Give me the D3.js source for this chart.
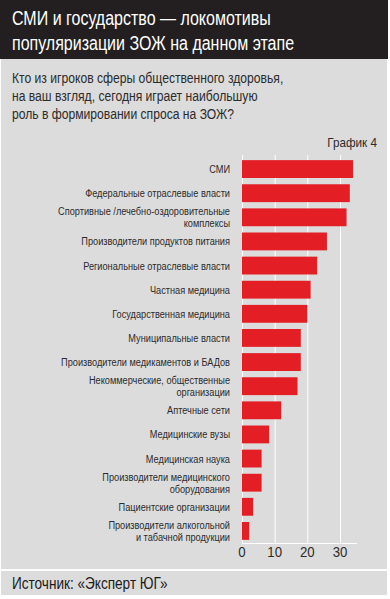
<!DOCTYPE html>
<html>
<head>
<meta charset="utf-8">
<script src="https://cdn.jsdelivr.net/npm/d3@7/dist/d3.min.js"></script>
<style>
  body { margin: 0; background: #fff; }
  svg { display: block; }
  text { font-family: "Liberation Sans Narrow", "Liberation Sans", Arial, sans-serif; }
</style>
</head>
<body>
<div id="chart"></div>
<script>
var categories = [
  ['СМИ'],
  ['Федеральные отраслевые власти'],
  ['Спортивные /лечебно-оздоровительные', 'комплексы'],
  ['Производители продуктов питания'],
  ['Региональные отраслевые власти'],
  ['Частная медицина'],
  ['Государственная медицина'],
  ['Муниципальные власти'],
  ['Производители медикаментов и БАДов'],
  ['Некоммерческие, общественные', 'организации'],
  ['Аптечные сети'],
  ['Медицинские вузы'],
  ['Медицинская наука'],
  ['Производители медицинского', 'оборудования'],
  ['Пациентские организации'],
  ['Производители алкогольной', 'и табачной продукции']
];
var values = [34, 33, 32, 26, 23, 21, 20, 18, 18, 17, 12, 8.3, 6, 6, 3.4, 2.2];
var ticks = [0, 10, 20, 30];

var titleLines = ['СМИ и государство — локомотивы', 'популяризации ЗОЖ на данном этапе'];
var questionLines = ['Кто из игроков сферы общественного здоровья,',
                     'на ваш взгляд, сегодня играет наибольшую',
                     'роль в формировании спроса на ЗОЖ?'];
var chartNo = 'График 4',
    source  = 'Источник: «Эксперт ЮГ»';

var width = 390, height = 599;

// squeeze text horizontally around its anchor x (the original uses a condensed face)
var narrow = function(sel, x0, sx) {
  sel.attr('transform', 'translate(' + x0 + ',0) scale(' + sx + ',1) translate(' + (-x0) + ',0)');
};

var svg = d3.select('#chart')
  .append('svg')
  .attr('width', width)
  .attr('height', height);

// panels
svg.append('rect').attr('x', 0).attr('y', 0).attr('width', 388).attr('height', 59).attr('fill', '#231f20');
svg.append('rect').attr('x', 1).attr('y', 59).attr('width', 386).attr('height', 510).attr('fill', '#dcdcdc');
svg.append('rect').attr('x', 1).attr('y', 571).attr('width', 386).attr('height', 24).attr('fill', '#dcdcdc');

var title = svg.append('text')
  .attr('fill', '#fff')
  .style('font-size', '20px');
title.selectAll('tspan')
  .data(titleLines)
  .enter().append('tspan')
  .attr('x', 12)
  .attr('y', function(d, i) { return 25 + i * 25; })
  .text(function(d) { return d; });
narrow(title, 12, 0.8);

var question = svg.append('text')
  .attr('fill', '#2b2b2b')
  .style('font-size', '15px');
question.selectAll('tspan')
  .data(questionLines)
  .enter().append('tspan')
  .attr('x', 12)
  .attr('y', function(d, i) { return 83 + i * 18; })
  .text(function(d) { return d; });
narrow(question, 12, 0.81);

var no = svg.append('text')
  .attr('x', 377)
  .attr('y', 147)
  .attr('text-anchor', 'end')
  .attr('fill', '#2b2b2b')
  .style('font-size', '13px')
  .text(chartNo);
narrow(no, 377, 0.9);

var x = d3.scaleLinear().domain([0, 30]).range([242, 340]);
var y = d3.scaleBand()
  .domain(d3.range(categories.length))
  .range([157, 543])
  .paddingInner(0.26)
  .paddingOuter(0.13);

// grid
svg.append('g')
  .selectAll('line')
  .data(ticks)
  .enter().append('line')
  .attr('x1', function(d) { return x(d) + 0.5; })
  .attr('x2', function(d) { return x(d) + 0.5; })
  .attr('y1', 155)
  .attr('y2', 543)
  .attr('stroke', '#fff')
  .attr('stroke-width', 1);

svg.append('line')
  .attr('x1', 242).attr('x2', 357)
  .attr('y1', 543.5).attr('y2', 543.5)
  .attr('stroke', '#fff');

svg.append('g')
  .selectAll('rect')
  .data(values)
  .enter().append('rect')
  .attr('x', x(0))
  .attr('y', function(d, i) { return y(i); })
  .attr('width', function(d) { return x(d) - x(0); })
  .attr('height', y.bandwidth())
  .attr('fill', '#e31e25');

var labels = svg.append('g')
  .selectAll('text')
  .data(categories)
  .enter().append('text')
  .attr('text-anchor', 'end')
  .attr('fill', '#2b2b2b')
  .style('font-size', '11.5px');
narrow(labels, 230, 0.8);

labels.selectAll('tspan')
  .data(function(d, i) {
    return d.map(function(line, j) { return { text: line, i: i, j: j, n: d.length }; });
  })
  .enter().append('tspan')
  .attr('x', 230)
  .attr('y', function(d) {
    var c = y(d.i) + y.bandwidth() / 2;
    return c + 4 + (d.j - (d.n - 1) / 2) * 12;
  })
  .text(function(d) { return d.text; });

svg.append('g')
  .selectAll('text')
  .data(ticks)
  .enter().append('text')
  .attr('x', function(d) { return x(d); })
  .attr('y', 557)
  .attr('text-anchor', 'middle')
  .attr('fill', '#2b2b2b')
  .style('font-size', '15px')
  .text(function(d) { return d; })
  .each(function(d) { narrow(d3.select(this), x(d), 0.88); });

var src = svg.append('text')
  .attr('x', 12)
  .attr('y', 589)
  .attr('fill', '#1a1a1a')
  .style('font-size', '16px')
  .text(source);
narrow(src, 12, 0.85);
</script>
</body>
</html>
